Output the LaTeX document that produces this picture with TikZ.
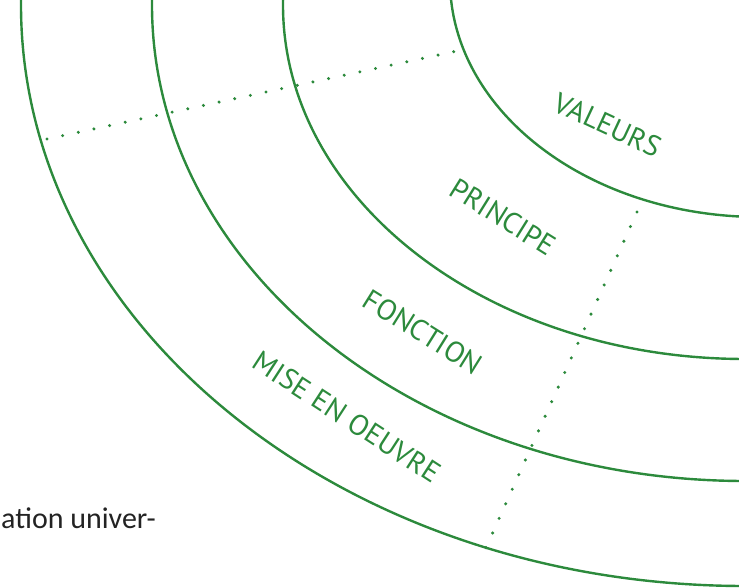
\documentclass[tikz,border=0pt]{standalone}
\usepackage{fontspec}
\setmainfont{Carlito}
\newfontfamily\ringfont{PT Sans}
\usepackage{tikz}
\usetikzlibrary{positioning}
\definecolor{ringgreen}{RGB}{44,138,60}
\definecolor{textgray}{RGB}{35,35,35}

\begin{document}
\begin{tikzpicture}[x=1pt,y=-1pt,
  ring/.style={draw=ringgreen,line width=2.4pt},
  dotline/.style={draw=ringgreen,line width=3.4pt,line cap=round,dash pattern=on 0pt off 16pt},
  ringlabel/.style={text=ringgreen,font=\ringfont\fontsize{29}{32}\selectfont,inner sep=0pt}]
\useasboundingbox (0,0) rectangle (739,588);
\begin{scope}
\clip (0,0) rectangle (739,588);
\draw[ring] (760,-20) ellipse [x radius=310,y radius=237];
\draw[ring] (745,5) ellipse [x radius=462,y radius=354];
\draw[ring] (745,5) ellipse [x radius=593,y radius=476];
\draw[ring] (745,5) ellipse [x radius=724,y radius=581];
\end{scope}

\coordinate (cutA) at (47,139);
\coordinate (cutB) at (457,51);
\coordinate (cutC) at (637,212);
\coordinate (cutD) at (484,552);
\draw[dotline] (cutA) -- (cutB);
\draw[dotline] (cutC) -- (cutD);

\node[ringlabel,rotate=-25] (valeurs) at (608,125) {VALEURS};
\node[ringlabel,rotate=-32] (principe) at (503,217) {PRINCIPE};
\node[ringlabel,rotate=-32] (fonction) at (423,332) {FONCTION};
\node[ringlabel,rotate=-33] (miseenoeuvre) at (347,417) {MISE EN OEUVRE};

\node[anchor=base west,text=textgray,font=\fontsize{30}{34}\selectfont,inner sep=0pt] (suite) at (1,528) {ation univer-};
\end{tikzpicture}
\end{document}
